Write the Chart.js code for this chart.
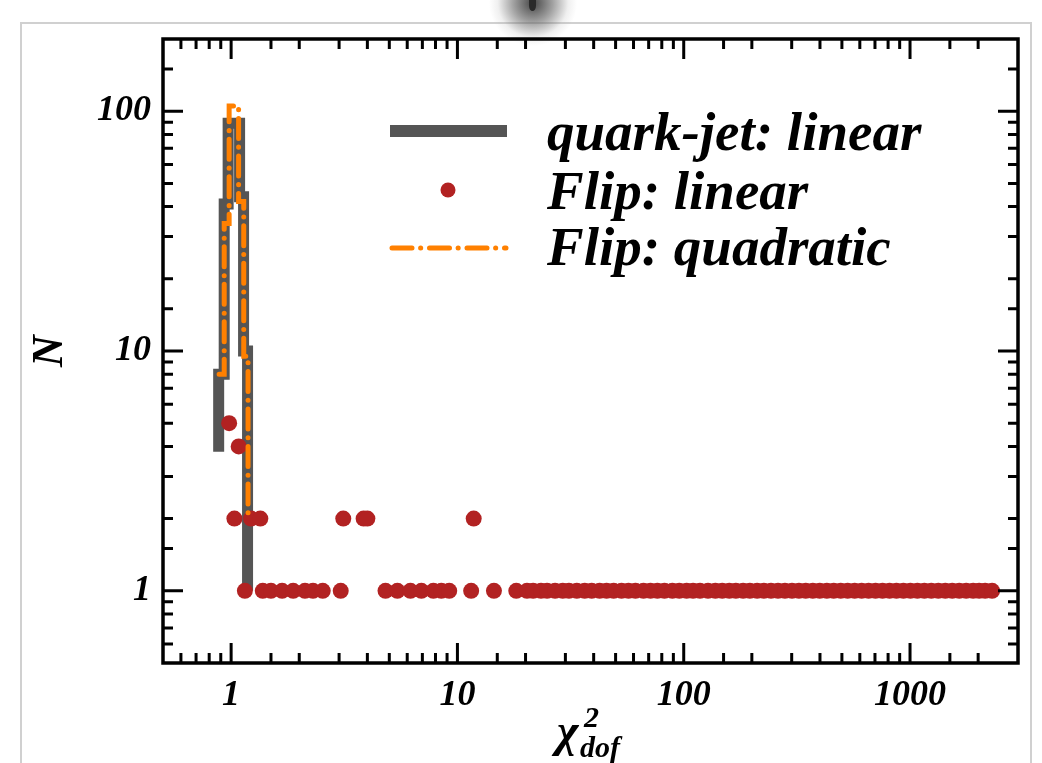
<!DOCTYPE html>
<html>
<head>
<meta charset="utf-8">
<script src="https://cdn.jsdelivr.net/npm/chart.js@4.4.0/dist/chart.umd.min.js"></script>
<style>
  html, body { margin: 0; padding: 0; background: #fff; }
  #wrap { position: relative; width: 1042px; height: 763px; overflow: hidden; }
  #frame { position: absolute; left: 20px; top: 22px; width: 1012px; height: 800px; border: 2px solid #d0d0d0; box-sizing: border-box; }
  #blob { position: absolute; left: 489px; top: -40px; width: 88px; height: 86px;
          background: radial-gradient(closest-side, rgba(55,55,55,0.92) 0%, rgba(100,100,100,0.6) 45%, rgba(170,170,170,0.18) 80%, rgba(255,255,255,0) 100%); }
  #pin { position: absolute; left: 529px; top: 0; width: 7px; height: 11px; background: #2a2a2a; border-radius: 0 0 50% 50%; }
  canvas { position: absolute; left: 0; top: 0; }
</style>
</head>
<body>
<div id="wrap">
  <div id="frame"></div>
  <div id="blob"></div>
  <div id="pin"></div>
  <canvas id="chart" width="1042" height="763"></canvas>
</div>
<script>
// quark-jet: linear (step outline vertices)
const quarkX = [0.881, 0.881, 0.932, 0.932, 0.97, 0.97, 1.09, 1.09, 1.135, 1.135, 1.182, 1.182];
const quarkN = [3.8, 8, 8, 41, 41, 89, 89, 44, 44, 10, 10, 1];

// Flip: quadratic (step outline vertices)
const quadX = [0.885, 0.932, 0.932, 0.98, 0.98, 1.079, 1.079, 1.137, 1.137, 1.188, 1.188];
const quadN = [8, 8, 34, 34, 105, 105, 42, 42, 9.5, 9.5, 2];

// Flip: linear (points)
const flipX = [0.98, 1.08, 1.034, 1.225, 1.346, 3.13, 3.85, 4.0, 11.8,
  1.15, 1.38, 1.50, 1.68, 1.88, 2.12, 2.30, 2.54, 3.05,
  4.81, 5.43, 6.20, 6.93, 7.83, 8.49, 9.20, 11.5, 14.5, 18.2,
  20.3, 21.6, 23.4, 24.9, 27.0, 29.2, 31.1, 33.7, 36.5, 39.2, 42.5, 45.6, 49.0, 53.1,
  57.0, 61.2, 66.4, 71.3, 76.5, 82.2, 89.1, 95.6, 103, 110, 118, 128, 138, 148,
  159, 170, 183, 196, 211, 226, 243, 261, 280, 301, 323, 346, 372, 399, 429, 460,
  494, 530, 569, 611, 656, 704, 756, 812, 871, 935, 1004, 1078, 1157, 1242, 1334,
  1432, 1537, 1650, 1771, 1901, 2020, 2147, 2305];
const flipN = [5, 4, 2, 2, 2, 2, 2, 2, 2,
  1, 1, 1, 1, 1, 1, 1, 1, 1,
  1, 1, 1, 1, 1, 1, 1, 1, 1, 1,
  1, 1, 1, 1, 1, 1, 1, 1, 1, 1, 1, 1, 1, 1,
  1, 1, 1, 1, 1, 1, 1, 1, 1, 1, 1, 1, 1, 1,
  1, 1, 1, 1, 1, 1, 1, 1, 1, 1, 1, 1, 1, 1, 1, 1,
  1, 1, 1, 1, 1, 1, 1, 1, 1, 1, 1, 1, 1, 1, 1,
  1, 1, 1, 1, 1, 1, 1, 1];

const legendLabels = ['quark-jet: linear', 'Flip: linear', 'Flip: quadratic'];

const gray = 'rgb(85, 85, 85)';
const red = 'rgb(178, 34, 34)';
const orange = 'rgb(255, 128, 0)';
const serif = "'Liberation Serif', 'Times New Roman', serif";

function pts(xs, ys) {
  return xs.map((x, i) => ({ x: x, y: ys[i] }));
}

function isDecade(v) {
  const p = Math.log10(v);
  return Math.abs(p - Math.round(p)) < 1e-6;
}

function decadeLabel(v) {
  return isDecade(v) ? String(Math.round(v)) : '';
}

// frame with inward ticks on all four sides
const framePlugin = {
  id: 'frame',
  afterDraw(chart) {
    const { ctx, chartArea: a, scales: { x, y } } = chart;
    ctx.save();
    ctx.strokeStyle = '#000';
    ctx.lineWidth = 3;
    ctx.beginPath();
    x.ticks.forEach(t => {
      const px = x.getPixelForValue(t.value);
      if (px <= a.left + 1 || px >= a.right - 1) return;
      const len = isDecade(t.value) ? 20 : 10;
      ctx.moveTo(px, a.bottom); ctx.lineTo(px, a.bottom - len);
      ctx.moveTo(px, a.top); ctx.lineTo(px, a.top + len);
    });
    y.ticks.forEach(t => {
      const py = y.getPixelForValue(t.value);
      if (py <= a.top + 1 || py >= a.bottom - 1) return;
      const len = isDecade(t.value) ? 20 : 10;
      ctx.moveTo(a.left, py); ctx.lineTo(a.left + len, py);
      ctx.moveTo(a.right, py); ctx.lineTo(a.right - len, py);
    });
    ctx.stroke();
    ctx.lineWidth = 3.5;
    ctx.strokeRect(a.left, a.top, a.right - a.left, a.bottom - a.top);
    ctx.restore();
  }
};

// legend and axis titles
const textPlugin = {
  id: 'texts',
  afterDraw(chart) {
    const ctx = chart.ctx;
    const ds = chart.data.datasets;
    ctx.save();

    // legend samples
    ctx.strokeStyle = ds[2].borderColor;
    ctx.lineWidth = 12;
    ctx.beginPath(); ctx.moveTo(390, 131); ctx.lineTo(507, 131); ctx.stroke();

    ctx.fillStyle = ds[1].backgroundColor;
    ctx.beginPath(); ctx.arc(448, 190, 7.5, 0, Math.PI * 2); ctx.fill();

    ctx.strokeStyle = ds[0].borderColor;
    ctx.lineWidth = 5;
    ctx.lineCap = 'round';
    ctx.setLineDash(ds[0].borderDash);
    ctx.beginPath(); ctx.moveTo(392, 248); ctx.lineTo(506, 248); ctx.stroke();
    ctx.setLineDash([]);
    ctx.lineCap = 'butt';

    ctx.fillStyle = '#000';
    ctx.textAlign = 'left';
    ctx.textBaseline = 'alphabetic';
    ctx.font = 'italic bold 55px ' + serif;
    ctx.fillText(legendLabels[0], 547, 150);
    ctx.fillText(legendLabels[1], 547, 209);
    ctx.fillText(legendLabels[2], 547, 265);

    // y title
    ctx.save();
    ctx.translate(62, 351);
    ctx.rotate(-Math.PI / 2);
    ctx.textAlign = 'center';
    ctx.font = 'italic bold 44px ' + serif;
    ctx.fillText('N', 0, 0);
    ctx.restore();

    // x title
    ctx.font = 'italic bold 46px ' + serif;
    ctx.fillText('χ', 557, 746);
    ctx.font = 'italic bold 30px ' + serif;
    ctx.fillText('2', 584, 727);
    ctx.fillText('dof', 580, 757);

    ctx.restore();
  }
};

const tickFont = { family: serif, size: 36, style: 'italic', weight: 'bold' };

new Chart(document.getElementById('chart').getContext('2d'), {
  type: 'scatter',
  data: {
    datasets: [
      {
        label: legendLabels[2],
        data: pts(quadX, quadN),
        showLine: true,
        borderColor: orange,
        borderWidth: 5,
        borderDash: [20, 8.6, 0.1, 8.8],
        borderCapStyle: 'round',
        pointRadius: 0,
        order: 0
      },
      {
        label: legendLabels[1],
        data: pts(flipX, flipN),
        backgroundColor: red,
        borderWidth: 0,
        pointRadius: 8,
        pointHoverRadius: 8,
        order: 1
      },
      {
        label: legendLabels[0],
        data: pts(quarkX, quarkN),
        showLine: true,
        borderColor: gray,
        borderWidth: 11,
        borderJoinStyle: 'miter',
        pointRadius: 0,
        order: 2
      }
    ]
  },
  options: {
    responsive: false,
    animation: false,
    layout: { padding: { left: 0, right: 24, top: 39, bottom: 0 } },
    plugins: {
      legend: { display: false },
      tooltip: { enabled: false }
    },
    scales: {
      x: {
        type: 'logarithmic',
        min: 0.5,
        max: 3000,
        grid: { display: false, drawTicks: false },
        border: { display: false },
        ticks: { autoSkip: false, maxRotation: 0, padding: 11, color: '#000', font: tickFont, callback: decadeLabel },
        afterFit: s => { s.height = 100; }
      },
      y: {
        type: 'logarithmic',
        min: 0.5,
        max: 200,
        grid: { display: false, drawTicks: false },
        border: { display: false },
        ticks: { autoSkip: false, padding: 12, color: '#000', font: tickFont, callback: decadeLabel },
        afterFit: s => { s.width = 163; }
      }
    }
  },
  plugins: [framePlugin, textPlugin]
});
</script>
</body>
</html>
